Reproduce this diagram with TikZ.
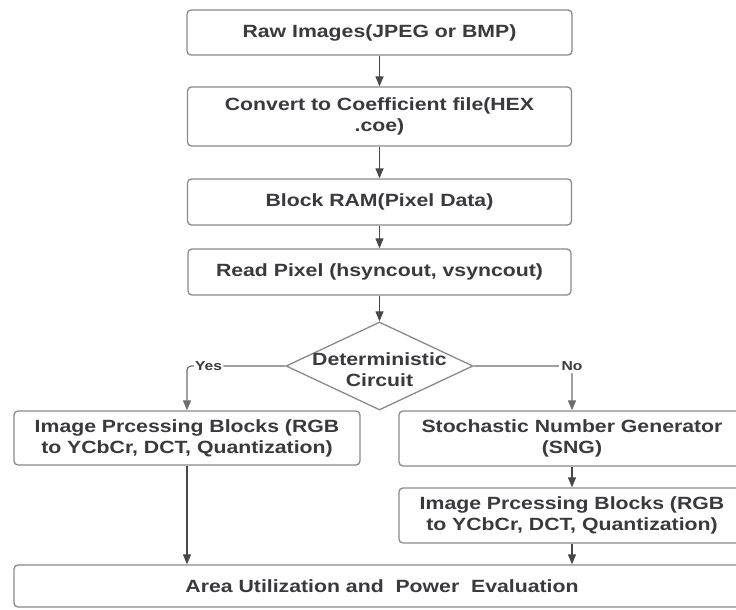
\documentclass[tikz,border=0pt]{standalone}
\usepackage{fontspec}
\setmainfont{Liberation Sans}[FakeStretch=1.2]
\usetikzlibrary{shapes.geometric,arrows.meta}

\begin{document}
\begin{tikzpicture}[x=1pt,y=1pt,
  box/.style={draw=boxColor,line width=1.3pt,rounded corners=4pt,fill=white,
    inner sep=0pt,align=center,text=textColor,
    font=\fontsize{17.7}{21}\selectfont\bfseries},
  decision/.style={draw=boxColor,line width=1.3pt,diamond,inner sep=0pt,
    minimum width=187pt,minimum height=88pt},
  boxtext/.style={inner sep=0pt,align=center,text=textColor,
    font=\fontsize{17.7}{21}\selectfont\bfseries},
  flow/.style={draw=arrowColor,line width=1.2pt,-{Triangle[length=10pt,width=8pt]}},
  branch/.style={flow,draw=lineColor,rounded corners=4pt},
  tag/.style={fill=white,inner sep=1.2pt,text=textColor,
    font=\fontsize{13}{15}\selectfont\bfseries}]
\definecolor{textColor}{RGB}{58,58,62}
\definecolor{boxColor}{RGB}{138,138,140}
\definecolor{arrowColor}{RGB}{72,72,76}
\definecolor{lineColor}{RGB}{110,110,112}
\path[use as bounding box,fill=white] (0,0) rectangle (736,610);
\clip (0,0) rectangle (736,610);

% main column
\node[box,minimum width=385pt,minimum height=45pt] (raw) at (379.5,577.5) {Raw Images(JPEG or BMP)};
\node[box,minimum width=384pt,minimum height=59pt] (coe) at (379.5,493.5) {Convert to Coefficient file(HEX\\.coe)};
\node[box,minimum width=384pt,minimum height=46pt] (bram) at (379.5,408) {Block RAM(Pixel Data)};
\node[box,minimum width=383pt,minimum height=46pt] (read) at (379.5,338) {Read Pixel (hsyncout, vsyncout)};

\node[decision] (det) at (379.5,244) {};
\node[boxtext] (dettext) at ([yshift=-4pt]det.center) {Deterministic\\Circuit};

% branches
\node[box,minimum width=346pt,minimum height=54pt] (ipl) at (187,172) {Image Prcessing Blocks (RGB\\to YCbCr, DCT, Quantization)};
\node[box,minimum width=346pt,minimum height=55pt] (sng) at (572,171.5) {Stochastic Number Generator\\(SNG)};
\node[box,minimum width=346pt,minimum height=55pt] (ipr) at (572,94.5) {Image Prcessing Blocks (RGB\\to YCbCr, DCT, Quantization)};

\node[box,minimum width=736pt,minimum height=42pt] (eval) at (382,24) {Area Utilization and~ Power~ Evaluation};

\draw[flow] (raw) -- (coe);
\draw[flow] (coe) -- (bram);
\draw[flow] (bram) -- (read);
\draw[flow] (read) -- (det);
\draw[branch] (det.west) -| node[pos=0.39,tag] (yes) {Yes} (ipl.north);
\draw[branch] (det.east) -| node[pos=0.5,tag,inner sep=2.5pt] (no) {No} (sng.north);
\draw[flow] (ipl.south) -- (ipl.south |- eval.north);
\draw[flow] (sng) -- (ipr);
\draw[flow] (ipr.south) -- (ipr.south |- eval.north);
\end{tikzpicture}
\end{document}
